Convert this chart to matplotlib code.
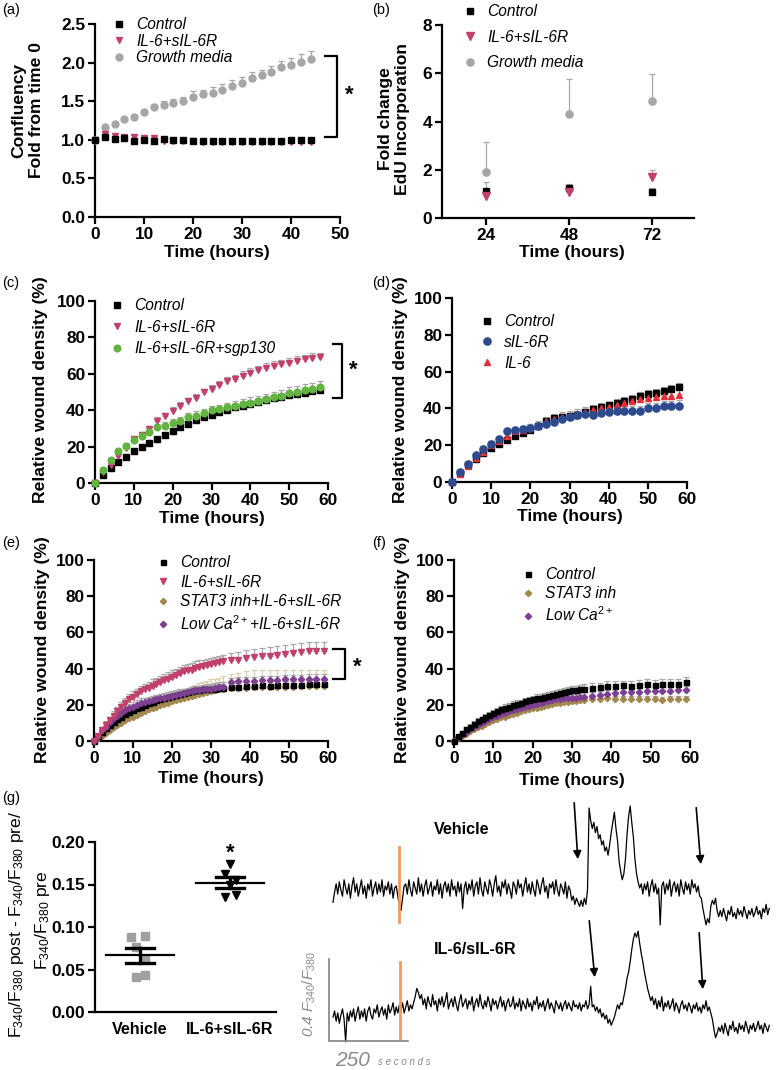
import matplotlib
matplotlib.use('Agg')
import matplotlib.pyplot as plt
from matplotlib.font_manager import FontProperties
import numpy as np

plt.rcParams['font.family'] = ['Liberation Sans', 'DejaVu Sans']
plt.rcParams['font.weight'] = 'bold'
plt.rcParams['mathtext.fontset'] = 'custom'
plt.rcParams['mathtext.rm'] = 'Liberation Sans:weight=normal'
plt.rcParams['mathtext.it'] = 'Liberation Sans:italic:weight=normal'
plt.rcParams['mathtext.bf'] = 'Liberation Sans:bold'

# ---------------- DATA ----------------
# (a) confluency
t_a = [0, 2, 4, 6, 8, 10, 12, 14, 16, 18, 20, 22, 24, 26, 28, 30, 32, 34, 36, 38, 40, 42, 44]
ctrl_a = [1.0, 1.03, 1.01, 1.02, 0.98, 1.0, 0.99, 1.01, 1.0, 1.0, 0.99, 0.99, 0.99, 0.99, 0.99, 0.99,
          0.99, 0.99, 0.99, 0.99, 1.0, 1.0, 1.0]
il6_a = [1.0, 1.07, 1.05, 1.04, 1.03, 1.02, 1.02, 0.99, 0.98, 0.98, 0.98, 0.97, 0.97, 0.97, 0.97,
         0.97, 0.97, 0.97, 0.97, 0.97, 0.97, 0.97, 0.97]
gm_a = [1.0, 1.17, 1.20, 1.27, 1.29, 1.36, 1.43, 1.45, 1.48, 1.50, 1.56, 1.59, 1.61, 1.65, 1.70,
        1.74, 1.80, 1.84, 1.88, 1.94, 1.97, 2.01, 2.05]
gm_a_err = [0, 0.02, 0.02, 0.02, 0.03, 0.03, 0.03, 0.05, 0.05, 0.06, 0.07, 0.06, 0.08, 0.07, 0.07,
            0.07, 0.08, 0.07, 0.07, 0.08, 0.09, 0.10, 0.10]

# (b) EdU incorporation
t_b = [24, 48, 72]
ctrl_b = [1.13, 1.24, 1.08]
ctrl_b_err = [0.35, 0.18, 0.16]
il6_b = [0.92, 1.06, 1.68]
il6_b_err = [0.10, 0.10, 0.29]
gm_b = [1.90, 4.33, 4.86]
gm_b_err = [1.23, 1.44, 1.12]

# (c) wound density
t_cd = [0, 2, 4, 6, 8, 10, 12, 14, 16, 18, 20, 22, 24, 26, 28, 30, 32, 34, 36, 38, 40, 42, 44, 46,
        48, 50, 52, 54, 56, 58]
ctrl_c = [0, 4.5, 8, 11.5, 14.5, 17.5, 19.8, 22, 24.3, 26.2, 28.5, 30.5, 32.5, 34.5, 36, 37.5, 39,
          40.2, 41.5, 42.5, 43.5, 44.5, 45.5, 46.5, 47.5, 48.3, 49, 49.7, 50.3, 51]
ctrl_c_err = [0, 0.5, 0.5, 0.5, 0.6, 0.6, 0.7, 0.7, 0.8, 0.8, 0.9, 0.9, 1, 1, 1, 1.1, 1.1, 1.2, 1.2,
              1.2, 1.3, 1.3, 1.3, 1.4, 1.4, 1.4, 1.5, 1.5, 1.5, 1.5]
il6_c = [0, 6.2, 9.9, 14.8, 19.4, 24.2, 26.6, 29.5, 34.3, 36.8, 39.6, 42.3, 44.9, 46.9, 49.8, 51.7,
         53.9, 56.1, 57.2, 59.0, 60.7, 62.1, 63.2, 64.3, 65.2, 66.2, 67.0, 67.9, 68.7, 69.0]
il6_c_err = [0, 1, 1, 1.2, 1.3, 1.5, 1.5, 1.6, 1.7, 1.8, 1.9, 2, 2, 2.1, 2.1, 2.2, 2.2, 2.3, 2.3,
             2.3, 2.4, 2.4, 2.5, 2.5, 2.5, 2.6, 2.6, 2.6, 2.7, 2.7]
sgp_c = [0, 7, 12.5, 17.5, 20.5, 23.5, 26, 28, 30.5, 31.5, 33, 34, 36, 37, 38.5, 40, 40.5, 41.5,
         42.5, 43.5, 44, 45, 46, 47, 48, 49.5, 50, 51, 51.5, 52.5]
sgp_c_err = [0, 1, 1.2, 1.3, 1.4, 1.5, 1.6, 1.7, 1.8, 1.9, 2, 2.1, 2.2, 2.3, 2.4, 2.5, 2.6, 2.7,
             2.8, 2.9, 3, 3, 3.1, 3.2, 3.3, 3.4, 3.5, 3.5, 3.6, 3.7]

# (d)
ctrl_d = [0, 4.9, 9.4, 12.5, 15.6, 18.3, 20.5, 22.6, 24.8, 26.8, 28.4, 30.6, 33.1, 34.7, 35.3,
          35.7, 36.6, 37.8, 39.6, 40.6, 41.7, 43.2, 44.2, 45.3, 46.6, 47.8, 48.2, 49.4, 50.3, 51.4]
ctrl_d_err = [0, 0.8, 1, 1, 1.2, 1.2, 1.3, 1.3, 1.4, 1.4, 1.5, 1.5, 1.6, 1.6, 1.7, 1.7, 1.8, 1.8,
              1.9, 1.9, 2, 2, 2.1, 2.1, 2.2, 2.2, 2.3, 2.3, 2.4, 2.4]
sil6r_d = [0, 5.6, 9.8, 14.5, 18.2, 20.8, 23.2, 27.5, 28.0, 28.7, 29.5, 30.4, 31.5, 32.8, 34.4,
           35.1, 36.2, 36.9, 36.6, 37.5, 38.1, 38.6, 38.6, 38.8, 38.8, 40.4, 40.2, 41.1, 41.1, 41.1]
sil6r_d_err = [0, 0.8, 1, 1, 1.2, 1.3, 1.4, 1.5, 1.6, 1.7, 1.8, 1.9, 2, 2, 2.1, 2.1, 2.2, 2.2,
               2.3, 2.3, 2.4, 2.4, 2.5, 2.6, 2.7, 2.8, 2.9, 3, 3.1, 3.2]
il6_d = [0, 4.5, 8.5, 13, 16.5, 20, 22.5, 25, 27.5, 28.5, 29.5, 31, 33, 34.5, 35.5, 36, 37, 38,
         39, 40, 41, 42, 43, 44, 45, 45.5, 46, 46.5, 47, 47.5]
il6_d_err = [0, 0.8, 1, 1.2, 1.3, 1.5, 1.6, 1.7, 1.8, 1.9, 2, 2.1, 2.2, 2.3, 2.4, 2.5, 2.5, 2.6,
             2.6, 2.7, 2.7, 2.8, 2.8, 2.9, 2.9, 3, 3, 3, 3.1, 3.1]

# (e) / (f)
t_ef = [0, 1, 2, 3, 4, 5, 6, 7, 8, 9, 10, 11, 12, 13, 14, 15, 16, 17, 18, 19, 20, 21, 22, 23, 24,
        25, 26, 27, 28, 29, 30, 31, 32, 33, 35, 37, 39, 41, 43, 45, 47, 49, 51, 53, 55, 57, 59]
ctrl_e = [0, 2.5, 5, 7, 9, 10.5, 12, 13.5, 15, 16, 17, 18, 19, 20, 21, 21.5, 22.5, 23, 24, 24.5,
          25, 25.5, 26, 26.5, 27, 27.5, 28, 28, 28.5, 28.5, 29, 29, 29.5, 29.5,
          30, 30, 30.5, 30.5, 31, 30.5, 31, 31, 31, 31, 31.5, 31.5, 31.5]
ctrl_e_err = [0, 0.5, 0.8, 1, 1, 1, 1.2, 1.2, 1.3, 1.3, 1.4, 1.4, 1.5, 1.5, 1.5, 1.6, 1.6, 1.6,
              1.7, 1.7, 1.7, 1.8, 1.8, 1.8, 1.8, 1.9, 1.9, 1.9, 2, 2, 2, 2, 2, 2,
              2, 2, 2, 2, 2, 2, 2, 2, 2, 2, 2, 2, 2]
il6_e = [0, 3, 6, 9, 11.5, 14, 16.5, 19, 21, 23, 24.5, 26, 27.5, 28.5, 29.5, 30.5, 31.5, 32.5,
         33.5, 34.5, 35.5, 36.5, 37.5, 38.5, 39, 39.5, 40.5, 41, 41.5, 42, 42.5, 43, 43.5, 44,
         44.5, 45, 46, 46.5, 47, 47, 47.5, 48, 48.5, 49, 49.5, 49.5, 49.5]
il6_e_err = [0, 1, 1.5, 2, 2, 2.5, 2.5, 2.5, 3, 3, 3, 3, 3, 3, 3, 3.5, 3.5, 3.5, 3.5, 3.5, 3.5,
             3.5, 3.5, 3.5, 3.5, 3.5, 3.5, 3.5, 3.5, 3.5, 3.5, 3.5, 3.5, 3.5,
             4, 4, 4.5, 4.5, 4.5, 5, 5, 5, 5, 5, 5, 5, 5]
stat_e = [0, 1.5, 3, 4.5, 6, 7.5, 9, 10, 11.5, 12.5, 13.5, 14.5, 15.5, 16.5, 17.5, 18.5, 19, 20,
          20.5, 21, 22, 22.5, 23, 24, 24.5, 25, 25.5, 26, 26.5, 27, 27.5, 28, 28.5, 29,
          29.5, 29.5, 29.5, 30, 30, 30, 30, 30, 30, 30.5, 30.5, 30.5, 30.5]
stat_e_err = [0, 0.5, 1, 1, 1.5, 1.5, 2, 2, 2, 2.5, 2.5, 2.5, 3, 3, 3, 3.5, 3.5, 4, 4, 4, 4.5,
              4.5, 5, 5, 5, 5.5, 5.5, 6, 6, 6, 6.5, 6.5, 6.5, 7,
              7.5, 8, 9, 9, 9, 9, 9, 9, 9, 9, 9, 8.5, 8.5]
lowca_e = [0, 3, 6, 8, 10.5, 12.5, 14, 15.5, 17, 18, 19, 20, 21, 21.5, 22, 22.5, 23, 23.5, 24,
           24.5, 25, 25.5, 26, 26.5, 27, 27.5, 28, 28, 28.5, 29, 29, 29.5, 30, 30,
           32.5, 33, 33, 33, 33.5, 33.5, 33.5, 34, 34, 34, 34.5, 34.5, 34.5]
lowca_e_err = [0, 0.5, 1, 1.5, 1.5, 2, 2, 2, 2.5, 2.5, 2.5, 2.5, 2.5, 2.5, 2.5, 2.5, 2.5, 2.5,
               2.5, 2.5, 2.5, 2.5, 2.5, 2.5, 2.5, 2.5, 2.5, 2.5, 2.5, 2.5, 2.5, 2.5, 2.5, 2.5,
               2.5, 2.5, 2.5, 2.5, 2.5, 2.5, 2.5, 2.5, 2.5, 2.5, 2.5, 2.5, 2.5]

ctrl_f = [0, 2.5, 4.5, 6.5, 8, 9.5, 11, 12, 13.5, 14.5, 15.5, 16.5, 17.5, 18.5, 19, 20, 20.5, 21,
          22, 22.5, 23, 24, 24, 24.5, 25, 25.5, 26, 26.5, 27, 27.5, 28, 28, 28.5, 29,
          29.5, 30, 30.5, 30.5, 31, 30.5, 31, 31.5, 31, 31.5, 31.5, 31.5, 32.5]
ctrl_f_err = [0, 0.8, 1, 1.2, 1.3, 1.4, 1.5, 1.5, 1.6, 1.6, 1.7, 1.7, 1.8, 1.8, 1.8, 1.9, 1.9,
              1.9, 2, 2, 2, 2, 2, 2, 2.1, 2.1, 2.1, 2.1, 2.2, 2.2, 2.2, 2.2, 2.2, 2.3,
              2.3, 2.3, 2.4, 2.4, 2.4, 2.5, 2.5, 2.6, 2.6, 2.7, 2.7, 2.8, 3.0]
stat_f = [0, 1.5, 3, 4, 5.5, 6.5, 7.5, 8.5, 9.5, 10.5, 11.5, 12, 13, 13.5, 14.5, 15, 15.5, 16.5,
          17, 17.5, 18, 18.5, 19, 19.5, 20, 20.5, 21, 21, 21.5, 21.5, 22, 22, 22.5, 22.5,
          23, 23, 23.5, 23, 23, 23, 23, 23, 23, 22.5, 23, 23, 23]
stat_f_err = [0, 0.5, 0.8, 1, 1, 1.1, 1.2, 1.2, 1.3, 1.3, 1.4, 1.4, 1.4, 1.5, 1.5, 1.5, 1.5, 1.6,
              1.6, 1.6, 1.6, 1.7, 1.7, 1.7, 1.7, 1.8, 1.8, 1.8, 1.8, 1.8, 1.9, 1.9, 1.9, 1.9,
              1.9, 1.9, 2, 2, 2, 2, 2, 2, 2, 2, 2, 2, 2]
lowca_f = [0, 2, 3.5, 5, 6.5, 8, 9, 10, 11, 12, 13, 14, 15, 15.5, 16.5, 17, 17.5, 18, 19, 19.5,
           20, 20.5, 21, 21.5, 22, 22.5, 23, 23, 23.5, 23.5, 24, 24, 24.5, 24.5,
           25, 25.5, 26, 26.5, 27, 27, 27, 27.5, 27.5, 27.5, 27.5, 28, 28]
lowca_f_err = [0, 0.6, 0.9, 1, 1.2, 1.3, 1.4, 1.5, 1.5, 1.6, 1.6, 1.7, 1.7, 1.8, 1.8, 1.8, 1.9,
               1.9, 1.9, 2, 2, 2, 2, 2.1, 2.1, 2.1, 2.1, 2.2, 2.2, 2.2, 2.2, 2.2, 2.3, 2.3,
               2.3, 2.3, 2.4, 2.4, 2.4, 2.4, 2.5, 2.5, 2.5, 2.5, 2.5, 2.5, 2.5]

# (g) calcium response
g_categories = ['Vehicle', 'IL-6+sIL-6R']
veh_g = [0.088, 0.089, 0.076, 0.062, 0.041, 0.043]
il6_g = [0.174, 0.162, 0.155, 0.150, 0.135, 0.138]

# (g) traces: F340/F380 ratio relative to baseline, sampled every 5 s
trace_dt = 5
veh_trace = [
    -0.06, -0.01, 0.03, -0.02, 0.04, 0.0, -0.03, 0.05, 0.01, -0.02,
    0.03, -0.04, 0.02, 0.06, -0.01, 0.03, -0.03, 0.01, 0.05, -0.02,
    0.02, -0.04, 0.03, 0.0, 0.05, -0.03, 0.01, 0.04, -0.02, 0.03,
    -0.01, 0.05, -0.03, 0.02, 0.0, 0.04, -0.02, 0.03, -0.04, 0.01,
    0.02,
    -0.03, -0.08, -0.10, -0.04, 0.02,
    0.03, -0.02, 0.05, 0.0, -0.03, 0.04, 0.01, -0.02, 0.06, -0.01,
    0.03, -0.03, 0.02, 0.05, -0.02, 0.01, 0.04, -0.03, 0.02, 0.0,
    0.05, -0.02, 0.03, -0.04, 0.02, 0.04, -0.01, 0.03, -0.03, 0.05,
    0.0, 0.02, -0.03, 0.04, -0.01, 0.03, -0.09, 0.01, 0.04, -0.02,
    0.03, 0.0, 0.05, -0.03, 0.02, 0.04, -0.02, 0.06, 0.0, -0.03,
    0.04, 0.01, -0.02, 0.05, 0.02, -0.03, 0.03, 0.07, -0.01, 0.02,
    -0.03, 0.04, 0.01, 0.05, -0.02, 0.03, 0.0, -0.04, 0.04, 0.02,
    -0.02, 0.05, 0.01, 0.03, -0.03, 0.02, 0.06, -0.01, 0.03, -0.02,
    0.04, 0.0, -0.03, 0.05, 0.02, -0.02, 0.03, 0.06, -0.01, 0.02,
    -0.04, 0.03, 0.01, 0.04, -0.02, 0.05, 0.0, -0.03, 0.03, 0.01,
    -0.02, 0.04, -0.04, 0.02, 0.0, -0.05, -0.03, -0.07, -0.04,
    -0.06, -0.08, -0.05, -0.08, -0.04, -0.07, 0.0, 0.40, 0.34, 0.30,
    0.33, 0.28, 0.31, 0.25, 0.27, 0.22, 0.24, 0.19, 0.21, 0.17,
    0.22, 0.28, 0.33, 0.38, 0.30, 0.24, 0.14, 0.09, 0.05, 0.08,
    0.15, 0.27, 0.36, 0.41, 0.33, 0.26, 0.15, 0.08, 0.04, 0.01,
    0.03,
    -0.02, 0.03, 0.0, 0.04, -0.03, 0.02, 0.05, -0.01, 0.03, -0.02,
    0.01, -0.17, 0.02, 0.04, -0.02, 0.03, 0.0, 0.05, -0.03, 0.02,
    0.04, -0.01, 0.03, -0.03, 0.05, 0.01, -0.02, 0.04, 0.0, 0.03,
    -0.02, 0.05, 0.01, 0.03, -0.01, 0.02, -0.03,
    -0.04, -0.09, -0.13, -0.17, -0.14, -0.16, -0.08, -0.05, -0.07, -0.04,
    -0.10, -0.13,
    -0.10, -0.13, -0.09, -0.12, -0.15, -0.10, -0.12, -0.08, -0.13, -0.11,
    -0.14, -0.09, -0.12, -0.10, -0.13, -0.08, -0.11, -0.14, -0.10, -0.12,
    -0.09, -0.13, -0.11, -0.08, -0.12, -0.10, -0.14, -0.09, -0.11, -0.07,
    -0.12, -0.09]
il6_trace = [
    0.0, 0.03, -0.02, 0.02, -0.03, 0.01, 0.04, -0.01, -0.12, 0.02,
    -0.02, 0.03, 0.0, 0.04, -0.02, 0.02, 0.05, -0.01, 0.03, 0.0,
    0.04, -0.02, 0.03, 0.05, 0.01, -0.01, 0.04, 0.02, 0.06, 0.0,
    0.03, 0.05, 0.01, 0.04, -0.01, 0.06, 0.02, 0.04, 0.07, 0.01,
    0.05, 0.02, 0.06, 0.03, 0.07, 0.02, 0.05, 0.08, 0.03, 0.06,
    0.04, 0.07,
    0.10, 0.14, 0.12, 0.09,
    0.11, 0.06, 0.09, 0.04, 0.10, 0.07, 0.05, 0.11, 0.06, 0.08,
    0.03, 0.09, 0.06, 0.10, 0.05, 0.08, 0.12, 0.04, 0.07, 0.09,
    0.05, 0.10, 0.06, 0.03, 0.08, 0.11, 0.05, 0.07, 0.09, 0.04,
    0.08, 0.06, 0.10, 0.03, 0.07, 0.09, 0.05, 0.11, 0.06, 0.04,
    0.08, 0.05, 0.10, 0.07, 0.03, 0.09, 0.06, 0.08, 0.04, 0.07,
    0.10, 0.05, 0.08, 0.03, 0.07, 0.09, 0.05, 0.06, 0.10, 0.04,
    0.07, 0.05, 0.09, 0.03, 0.08, 0.06, 0.04, 0.09, 0.05, 0.07,
    0.03, 0.08, 0.06, 0.10, 0.04, 0.07, 0.05, 0.08, 0.03, 0.06,
    0.09, 0.04, 0.07, 0.05, 0.02, 0.08, 0.06, 0.04, 0.07, 0.03,
    0.06, 0.08, 0.04, 0.07, 0.05, 0.03, 0.08, 0.05, 0.06, 0.04,
    0.07, 0.03, 0.06, 0.05, 0.08, 0.04, 0.06, 0.15, 0.05,
    0.06, 0.03, 0.05, 0.02, 0.04, 0.0, 0.02, -0.01, 0.01, -0.03,
    -0.01, -0.04, -0.02, 0.0, 0.03, 0.06, 0.04,
    0.07, 0.06, 0.10, 0.14, 0.19, 0.22, 0.27, 0.33, 0.38, 0.41,
    0.39, 0.42, 0.36, 0.31, 0.27, 0.22, 0.18, 0.14, 0.11, 0.08,
    0.10,
    0.06, 0.09, 0.04, 0.08, 0.05, 0.10, 0.03, 0.07, 0.05, 0.08,
    0.04, 0.06, 0.09, 0.03, 0.07, 0.05, 0.02, 0.06, 0.08, 0.04,
    0.06, 0.03, 0.07, 0.05, 0.02, 0.06, 0.04, 0.07, 0.03, 0.05,
    0.02, 0.06, 0.04, 0.08, 0.03, 0.05, 0.02,
    -0.01, -0.06, -0.10, -0.08, -0.05,
    -0.07, -0.04, -0.08, -0.03, -0.06, -0.09, -0.04, -0.06, -0.02, -0.07,
    -0.05, -0.08, -0.03, -0.06, -0.04, -0.07, -0.02, -0.05, -0.08, -0.04,
    -0.06, -0.03, -0.07, -0.05, -0.02, -0.06, -0.04, -0.08, -0.03, -0.05,
    -0.07, -0.04]
stim_time = 210          # s, agonist addition (orange line)
scale_ratio = 0.4        # scale bar
scale_seconds = 250

# ---------------- FIGURE ----------------
W, H = 777, 1070
fig = plt.figure(figsize=(W / 100, H / 100), dpi=100)


def fx(px):
    return px / W


def fy(py):
    return 1 - py / H


def add_ax(l, t, r, b):
    return fig.add_axes([l / W, 1 - b / H, (r - l) / W, (b - t) / H])


TICK_FS = 12.4
LAB_FS = 12.6
LEG_FS = 11.2
leg_prop = FontProperties(family='Liberation Sans', style='italic', weight='normal', size=LEG_FS)
ERRC = '#a8a8a8'

C_CTRL = '#000000'
C_IL6 = '#c2416b'
C_GM = '#a6a6a6'
C_SGP = '#62b33f'
C_SIL = '#2e4a8f'
C_IL6D = '#e0303a'
C_STAT = '#a3884f'
C_LOWCA = '#7d3f8f'
C_ORANGE = '#f39a55'


def style(ax):
    for s in ['top', 'right']:
        ax.spines[s].set_visible(False)
    for s in ['left', 'bottom']:
        ax.spines[s].set_linewidth(1.6)
    ax.tick_params(direction='out', length=5, width=1.6, labelsize=TICK_FS, pad=2)


def upper_err(ax, x, y, e, color=ERRC):
    ax.errorbar(x, y, yerr=[np.zeros(len(e)), e], fmt='none', ecolor=color, elinewidth=0.9,
                capsize=2.3, capthick=0.9, clip_on=False)


def legend(ax, handles, labels, mx, top, spacing):
    ax.legend(handles, labels, loc='upper left', bbox_to_anchor=(fx(mx - 6.2), fy(top)),
              bbox_transform=fig.transFigure, frameon=False, prop=leg_prop, handlelength=0.8,
              handletextpad=0.7, labelspacing=spacing, borderpad=0, borderaxespad=0)


def ylab(text, x, y, **kw):
    fig.text(fx(x), fy(y), text, rotation=90, ha='center', va='center', fontsize=LAB_FS,
             multialignment='center', **kw)


def xlab(text, x, y):
    fig.text(fx(x), fy(y), text, ha='center', va='center', fontsize=LAB_FS)


def panel(label, x, y):
    fig.text(fx(x), fy(y), label, ha='left', va='center', fontsize=10.5, fontweight='normal')


def bracket(ax, x0, x1, y0, y1):
    ax.plot([x0, x1, x1, x0], [y0, y0, y1, y1], color='k', lw=1.6, clip_on=False)


# ---- (a)
ax = add_ax(95, 24, 340, 217)
style(ax)
upper_err(ax, t_a, gm_a, gm_a_err)
hg, = ax.plot(t_a, gm_a, 'o', color=C_GM, ms=5, clip_on=False, zorder=3)
hi, = ax.plot(t_a, il6_a, 'v', color=C_IL6, ms=5, clip_on=False, zorder=3)
hc, = ax.plot(t_a, ctrl_a, 's', color=C_CTRL, ms=4.2, clip_on=False, zorder=4)
ax.set_xlim(0, 50)
ax.set_ylim(0, 2.5)
ax.set_xticks([0, 10, 20, 30, 40, 50])
ax.set_yticks([0, 0.5, 1.0, 1.5, 2.0, 2.5])
ax.set_yticklabels(['0.0', '0.5', '1.0', '1.5', '2.0', '2.5'])
legend(ax, [hc, hi, hg], ['Control', 'IL-6+sIL-6R', 'Growth media'], 119, 17, 0.1)
bracket(ax, 46.9, 49.4, 2.08, 1.03)
ax.text(51.9, 1.58, '*', fontsize=16, ha='center', va='center')
ylab('Confluency\nFold from time 0', 27.5, 110)
xlab('Time (hours)', 217, 253)
panel('(a)', 2, 10)

# ---- (b)
ax = add_ax(442, 25, 694, 218)
style(ax)
upper_err(ax, t_b, gm_b, gm_b_err)
upper_err(ax, t_b, il6_b, il6_b_err)
upper_err(ax, t_b, ctrl_b, ctrl_b_err)
hg, = ax.plot(t_b, gm_b, 'o', color=C_GM, ms=5.2, zorder=3)
hc, = ax.plot(t_b, ctrl_b, 's', color=C_CTRL, ms=4.5, zorder=3)
hi, = ax.plot(t_b, il6_b, 'v', color=C_IL6, ms=5.2, zorder=4)
ax.set_xlim(11.3, 84.1)
ax.set_ylim(0, 8)
ax.set_xticks(t_b)
ax.set_yticks([0, 2, 4, 6, 8])
legend(ax, [hc, hi, hg], ['Control', 'IL-6+sIL-6R', 'Growth media'], 470, 4, 0.68)
ylab('Fold change\nEdU Incorporation', 394, 119)
xlab('Time (hours)', 572, 253)
panel('(b)', 372, 10)

# ---- (c)
ax = add_ax(95, 301, 328, 483)
style(ax)
upper_err(ax, t_cd, il6_c, il6_c_err)
upper_err(ax, t_cd, sgp_c, sgp_c_err)
upper_err(ax, t_cd, ctrl_c, ctrl_c_err)
hc, = ax.plot(t_cd, ctrl_c, 's', color=C_CTRL, ms=4.0, clip_on=False, zorder=3)
hi, = ax.plot(t_cd, il6_c, 'v', color=C_IL6, ms=5.0, clip_on=False, zorder=3)
hs, = ax.plot(t_cd, sgp_c, 'o', color=C_SGP, ms=4.8, clip_on=False, zorder=4)
ax.set_xlim(0, 60)
ax.set_ylim(0, 100)
ax.set_xticks([0, 10, 20, 30, 40, 50, 60])
ax.set_yticks([0, 20, 40, 60, 80, 100])
legend(ax, [hc, hi, hs], ['Control', 'IL-6+sIL-6R', 'IL-6+sIL-6R+sgp130'], 117, 298, 0.42)
bracket(ax, 61.3, 63.6, 76.4, 46.7)
ax.text(66.4, 62, '*', fontsize=16, ha='center', va='center')
ylab('Relative wound density (%)', 41, 390)
xlab('Time (hours)', 212, 519)
panel('(c)', 2, 283)

# ---- (d)
ax = add_ax(452, 298, 687, 482)
style(ax)
upper_err(ax, t_cd, ctrl_d, ctrl_d_err)
upper_err(ax, t_cd, il6_d, il6_d_err)
upper_err(ax, t_cd, sil6r_d, sil6r_d_err)
hc, = ax.plot(t_cd, ctrl_d, 's', color=C_CTRL, ms=4.0, clip_on=False, zorder=3)
hi, = ax.plot(t_cd, il6_d, '^', color=C_IL6D, ms=4.8, clip_on=False, zorder=3)
hs, = ax.plot(t_cd, sil6r_d, 'o', color=C_SIL, ms=5.2, clip_on=False, zorder=4)
ax.set_xlim(0, 60)
ax.set_ylim(0, 100)
ax.set_xticks([0, 10, 20, 30, 40, 50, 60])
ax.set_yticks([0, 20, 40, 60, 80, 100])
legend(ax, [hc, hs, hi], ['Control', 'sIL-6R', 'IL-6'], 487, 314, 0.38)
ylab('Relative wound density (%)', 400, 390)
xlab('Time (hours)', 570, 516)
panel('(d)', 372, 283)

# ---- (e)
ax = add_ax(94, 560, 328, 741)
style(ax)
upper_err(ax, t_ef, il6_e, il6_e_err)
upper_err(ax, t_ef, stat_e, stat_e_err, '#dccfae')
upper_err(ax, t_ef, lowca_e, lowca_e_err)
upper_err(ax, t_ef, ctrl_e, ctrl_e_err)
hs, = ax.plot(t_ef, stat_e, 'D', color=C_STAT, ms=3.2, clip_on=False, zorder=3)
hc, = ax.plot(t_ef, ctrl_e, 's', color=C_CTRL, ms=3.6, clip_on=False, zorder=3)
hl, = ax.plot(t_ef, lowca_e, 'D', color=C_LOWCA, ms=3.2, clip_on=False, zorder=4)
hi, = ax.plot(t_ef, il6_e, 'v', color=C_IL6, ms=4.6, clip_on=False, zorder=4)
ax.set_xlim(0, 60)
ax.set_ylim(0, 100)
ax.set_xticks([0, 10, 20, 30, 40, 50, 60])
ax.set_yticks([0, 20, 40, 60, 80, 100])
legend(ax, [hc, hi, hs, hl], ['Control', 'IL-6+sIL-6R', 'STAT3 inh+IL-6+sIL-6R',
                              'Low Ca$^{2+}$+IL-6+sIL-6R'], 163, 555, 0.3)
bracket(ax, 61.3, 64.4, 50.7, 34.3)
ax.text(67.4, 40.9, '*', fontsize=16, ha='center', va='center')
ylab('Relative wound density (%)', 43, 650)
xlab('Time (hours)', 211, 778)
panel('(e)', 2, 543)

# ---- (f)
ax = add_ax(454, 560, 690, 741)
style(ax)
upper_err(ax, t_ef, ctrl_f, ctrl_f_err)
upper_err(ax, t_ef, lowca_f, lowca_f_err)
upper_err(ax, t_ef, stat_f, stat_f_err)
hs, = ax.plot(t_ef, stat_f, 'D', color=C_STAT, ms=3.2, clip_on=False, zorder=3)
hl, = ax.plot(t_ef, lowca_f, 'D', color=C_LOWCA, ms=3.2, clip_on=False, zorder=3)
hc, = ax.plot(t_ef, ctrl_f, 's', color=C_CTRL, ms=3.6, clip_on=False, zorder=4)
ax.set_xlim(0, 60)
ax.set_ylim(0, 100)
ax.set_xticks([0, 10, 20, 30, 40, 50, 60])
ax.set_yticks([0, 20, 40, 60, 80, 100])
legend(ax, [hc, hs, hl], ['Control', 'STAT3 inh', 'Low Ca$^{2+}$'], 528, 567, 0.28)
ylab('Relative wound density (%)', 403, 650)
xlab('Time (hours)', 572, 780)
panel('(f)', 372, 543)

# ---- (g) scatter
ax = add_ax(95, 842, 276, 1012)
style(ax)
jit_veh = [-0.10, 0.06, -0.04, 0.05, -0.05, 0.06]
jit_il6 = [0.0, -0.06, 0.07, 0.0, -0.06, 0.07]
ax.plot(np.zeros(len(veh_g)) + jit_veh, veh_g, 's', color='#a0a0a0', ms=5.5, zorder=2)
ax.plot(np.ones(len(il6_g)) + jit_il6, il6_g, 'v', color='k', ms=5.5, zorder=2)
for i, vals in enumerate([veh_g, il6_g]):
    m = np.mean(vals)
    se = np.std(vals, ddof=1) / np.sqrt(len(vals))
    ax.plot([i - 0.38, i + 0.38], [m, m], color='k', lw=1.6, zorder=3)
    ax.plot([i - 0.16, i + 0.16], [m + se, m + se], color='k', lw=2.4, zorder=3)
    ax.plot([i - 0.16, i + 0.16], [m - se, m - se], color='k', lw=2.4, zorder=3)
    ax.plot([i, i], [m - se, m + se], color='k', lw=2.4, zorder=3)
ax.text(1, 0.187, '*', fontsize=16, ha='center', va='center')
ax.set_xlim(-0.5, 1.51)
ax.set_ylim(0, 0.2)
ax.set_xticks([0, 1])
ax.set_xticklabels(g_categories, fontsize=11.6)
ax.tick_params(axis='x', length=0, pad=7)
ax.set_yticks([0, 0.05, 0.10, 0.15, 0.20])
ax.set_yticklabels(['0.00', '0.05', '0.10', '0.15', '0.20'])
fig.text(fx(17), fy(924), r'F$_{340}$/F$_{380}$ post - F$_{340}$/F$_{380}$ pre/', rotation=90,
         ha='center', va='center', fontsize=12.6, fontweight='normal')
fig.text(fx(43), fy(920), r'F$_{340}$/F$_{380}$ pre', rotation=90,
         ha='center', va='center', fontsize=12.6, fontweight='normal')
panel('(g)', 2, 798)

# ---- (g) traces
axt = add_ax(300, 790, 777, 1070)
axt.axis('off')
t_trace = np.arange(len(veh_trace)) * trace_dt
IL6_OFFSET = -0.62
axt.plot(t_trace, veh_trace, color='k', lw=0.9)
axt.plot(t_trace, np.array(il6_trace) + IL6_OFFSET, color='k', lw=0.9)
axt.plot([stim_time - 1, stim_time - 1], [0.21, -0.156], color=C_ORANGE, lw=2)
axt.plot([stim_time + 2, stim_time + 2], [-0.351, -0.722], color=C_ORANGE, lw=2)
sb_x, sb_y = -12.7, -0.737
axt.plot([sb_x, sb_x, sb_x + scale_seconds], [sb_y + scale_ratio, sb_y, sb_y],
         color='#808080', lw=1.2)
axt.set_xlim(-104.4, 1404.4)
axt.set_ylim(-0.878, 0.488)

fig.text(fx(309), fy(994), r'0.4 $F_{340}/F_{380}$', rotation=90, ha='center', va='center',
         fontsize=11, color='#8a8a8a', fontweight='normal', style='italic')
fig.text(fx(335), fy(1060), '250', ha='left', va='center', fontsize=15, color='#8a8a8a',
         fontweight='normal', style='italic')
fig.text(fx(378), fy(1062), 's e c o n d s', ha='left', va='center', fontsize=7,
         color='#8a8a8a', fontweight='normal', style='italic')
fig.text(fx(462), fy(830), 'Vehicle', ha='center', va='center', fontsize=11.6)
fig.text(fx(475), fy(950), 'IL-6/sIL-6R', ha='center', va='center', fontsize=11.6)

arrows = [((574, 800), (578, 862)), ((696, 805), (701, 867)),
          ((589, 918), (595, 980)), ((699, 930), (703, 992))]
for (x0, y0), (x1, y1) in arrows:
    fig.add_artist(matplotlib.patches.FancyArrowPatch(
        (fx(x0), fy(y0)), (fx(x1), fy(y1)), transform=fig.transFigure,
        arrowstyle='-|>', mutation_scale=12, color='k', lw=1.2))

fig.savefig('out.png', dpi=100, facecolor='white')
